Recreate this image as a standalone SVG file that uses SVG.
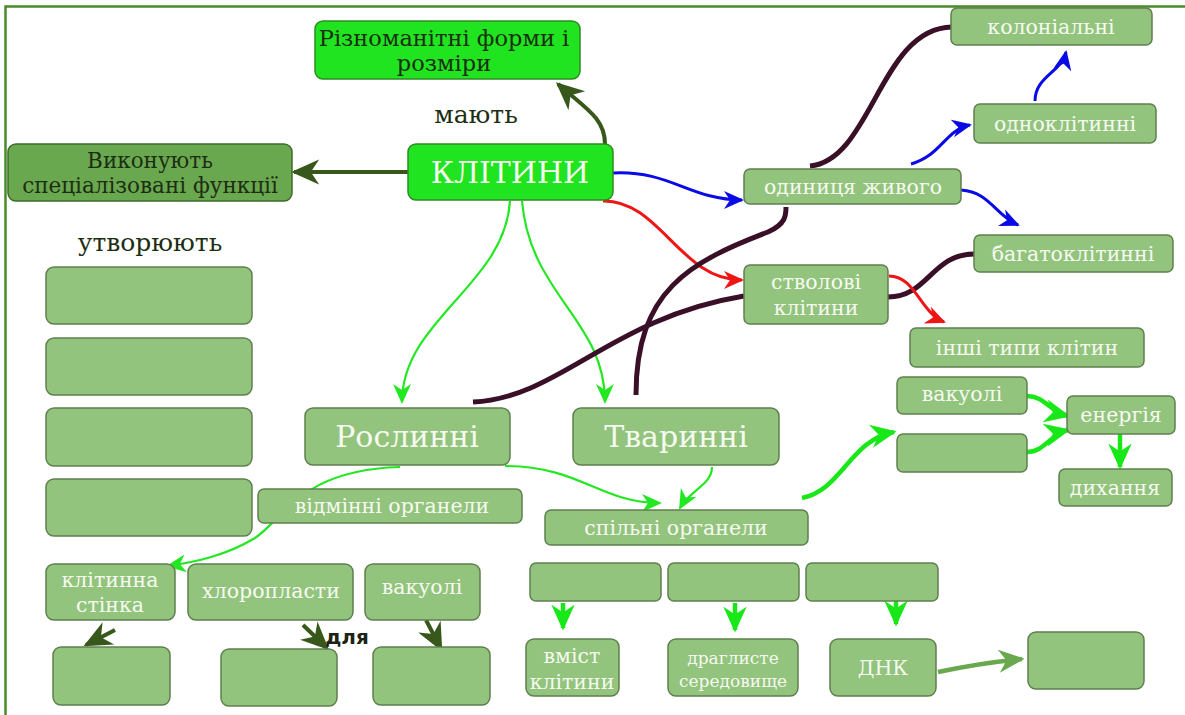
<svg xmlns="http://www.w3.org/2000/svg" width="1185" height="715" viewBox="0 0 1185 715">
<style>
.n rect{fill:#93c47d;stroke:#5f7f4f;stroke-width:1.5}
.n text{font-family:"DejaVu Serif","Liberation Serif",serif;fill:#f6faf1;text-anchor:middle;font-size:20.5px}
.b rect{fill:#1fe41f;stroke:#2f8a22;stroke-width:1.5}
.d rect{fill:#6aa84f;stroke:#3d6b2a;stroke-width:1.5}
.dk{font-family:"DejaVu Serif","Liberation Serif",serif;fill:#1c2e12;text-anchor:middle;font-size:20.5px}
.big{font-size:30px !important}
.c path{fill:none}
.dark{stroke:#38571a;stroke-width:4}
.blue{stroke:#0a0ae6;stroke-width:3}
.red{stroke:#ee1515;stroke-width:3}
.grn{stroke:#22e822;stroke-width:2.2}
.grnT{stroke:#18e818;stroke-width:4.5}
.pur{stroke:#3a1028;stroke-width:5}
.mid{stroke:#6aa84f;stroke-width:4.5}
</style>
<defs>
<marker id="mDark" viewBox="0 0 20 20" refX="18" refY="10" markerWidth="28" markerHeight="28" markerUnits="userSpaceOnUse" orient="auto"><path d="M0,1 L20,10 L0,19 L6,10 z" fill="#38571a"/></marker>
<marker id="mBlue" viewBox="0 0 20 20" refX="18" refY="10" markerWidth="20" markerHeight="20" markerUnits="userSpaceOnUse" orient="auto"><path d="M0,1 L20,10 L0,19 L6,10 z" fill="#0a0ae6"/></marker>
<marker id="mRed" viewBox="0 0 20 20" refX="18" refY="10" markerWidth="20" markerHeight="20" markerUnits="userSpaceOnUse" orient="auto"><path d="M0,1 L20,10 L0,19 L6,10 z" fill="#ee1515"/></marker>
<marker id="mGrn" viewBox="0 0 20 20" refX="18" refY="10" markerWidth="20" markerHeight="20" markerUnits="userSpaceOnUse" orient="auto"><path d="M0,1 L20,10 L0,19 L6,10 z" fill="#22e822"/></marker>
<marker id="mGrnT" viewBox="0 0 20 20" refX="18" refY="10" markerWidth="26" markerHeight="26" markerUnits="userSpaceOnUse" orient="auto"><path d="M0,1 L20,10 L0,19 L6,10 z" fill="#18e818"/></marker>
<marker id="mMid" viewBox="0 0 20 20" refX="18" refY="10" markerWidth="26" markerHeight="26" markerUnits="userSpaceOnUse" orient="auto"><path d="M0,1 L20,10 L0,19 L6,10 z" fill="#6aa84f"/></marker>
</defs>
<rect width="1185" height="715" fill="#ffffff"/>
<path d="M5.5,715 V6.5 H1185" fill="none" stroke="#4a8a2a" stroke-width="2.5"/>

<g id="connectors" class="c">
<path class="grn" d="M400,467 C300,470 285,518 255,538 C225,556 195,562 168,566" marker-end="url(#mGrn)"/>
<path class="dark" d="M605,144 C605,118 585,108 558,84" marker-end="url(#mDark)"/>
<path class="dark" d="M408,172 L294,172" marker-end="url(#mDark)"/>
<path class="blue" d="M613,173 C670,170 690,200 742,200" marker-end="url(#mBlue)"/>
<path class="red" d="M603,201 C660,200 680,280 742,280" marker-end="url(#mRed)"/>
<path class="grn" d="M510,201 C505,285 402,320 402,402" marker-end="url(#mGrn)"/>
<path class="grn" d="M522,201 C530,295 605,320 605,402" marker-end="url(#mGrn)"/>
<path class="pur" d="M473,402 C560,398 610,318 744,296"/>
<path class="pur" d="M636,395 C636,290 690,262 768,232 C786,224 786,215 786,207"/>
<path class="pur" d="M810,166 C872,160 880,28 952,27"/>
<path class="pur" d="M888,297 C928,297 932,254 974,254"/>
<path class="blue" d="M911,164 C942,155 945,130 970,125" marker-end="url(#mBlue)"/>
<path class="blue" d="M961,190 C990,192 995,215 1018,225" marker-end="url(#mBlue)"/>
<path class="blue" d="M1035,101 C1035,76 1062,72 1066,52" marker-end="url(#mBlue)"/>
<path class="red" d="M889,276 C915,276 920,312 944,322" marker-end="url(#mRed)"/>
<path class="grn" d="M505,466 C580,466 600,503 660,503" marker-end="url(#mGrn)"/>
<path class="grn" d="M712,467 C712,485 690,490 680,508" marker-end="url(#mGrn)"/>
<path class="grnT" d="M802,498 C842,490 850,440 894,432" marker-end="url(#mGrnT)"/>
<path class="grnT" d="M1027,396 C1045,396 1050,412 1068,416" marker-end="url(#mGrnT)"/>
<path class="grnT" d="M1027,452 C1045,452 1050,434 1068,430" marker-end="url(#mGrnT)"/>
<path class="grnT" d="M1120,434 L1120,467" marker-end="url(#mGrnT)"/>
<path class="grnT" d="M563,603 L563,628" marker-end="url(#mGrnT)"/>
<path class="grnT" d="M735,603 L735,630" marker-end="url(#mGrnT)"/>
<path class="grnT" d="M896,601 L896,624" marker-end="url(#mGrnT)"/>
<path class="mid" d="M938,672 C970,665 990,662 1022,659" marker-end="url(#mMid)"/>
<path class="dark" d="M115,630 L86,645" marker-end="url(#mDark)"/>
<path class="dark" d="M303,625 L327,648" marker-end="url(#mDark)"/>
<path class="dark" d="M426,620 L441,649" marker-end="url(#mDark)"/>
</g>

<g id="n-rizn" class="b"><rect x="315" y="21" width="265" height="58" rx="8"/><text class="dk" x="444" y="46" style="font-size:22.5px">Різноманітні форми і</text><text class="dk" x="444" y="71" style="font-size:22.5px">розміри</text></g>
<g id="n-vykon" class="d"><rect x="8" y="144" width="284" height="57" rx="8"/><text class="dk" x="150" y="168" style="font-size:21.5px">Виконують</text><text class="dk" x="150" y="193" style="font-size:21.5px">спеціалізовані функції</text></g>
<g id="n-klityny" class="b n"><rect x="408" y="144" width="205" height="56" rx="8" style="fill:#1fe41f;stroke:#2f8a22"/><text class="big" x="510" y="183">КЛІТИНИ</text></g>
<text class="dk" x="476" y="123" style="font-size:25px">мають</text>
<text class="dk" x="150" y="251" style="font-size:25px">утворюють</text>

<g id="n-odyn" class="n"><rect x="744" y="169" width="217" height="35" rx="6"/><text x="853" y="194">одиниця живого</text></g>
<g id="n-kolon" class="n"><rect x="951" y="8" width="201" height="37" rx="6"/><text x="1051" y="34">колоніальні</text></g>
<g id="n-odnokl" class="n"><rect x="974" y="104" width="182" height="39" rx="6"/><text x="1065" y="131">одноклітинні</text></g>
<g id="n-bagato" class="n"><rect x="974" y="235" width="199" height="37" rx="6"/><text x="1073" y="261">багатоклітинні</text></g>
<g id="n-stvol" class="n"><rect x="744" y="265" width="144" height="59" rx="6"/><text x="816" y="289">стволові</text><text x="816" y="315">клітини</text></g>
<g id="n-inshi" class="n"><rect x="910" y="328" width="234" height="39" rx="6"/><text x="1027" y="355">інші типи клітин</text></g>
<g id="n-vak2" class="n"><rect x="897" y="377" width="130" height="37" rx="6"/><text x="962" y="401">вакуолі</text></g>
<g id="n-empty-r" class="n"><rect x="897" y="434" width="130" height="38" rx="6"/></g>
<g id="n-energ" class="n"><rect x="1067" y="396" width="108" height="38" rx="6"/><text x="1121" y="422">енергія</text></g>
<g id="n-dyh" class="n"><rect x="1059" y="469" width="113" height="37" rx="6"/><text x="1115" y="495">дихання</text></g>

<g id="n-e1" class="n"><rect x="46" y="267" width="206" height="57" rx="8"/></g>
<g id="n-e2" class="n"><rect x="46" y="338" width="206" height="57" rx="8"/></g>
<g id="n-e3" class="n"><rect x="46" y="408" width="206" height="58" rx="8"/></g>
<g id="n-e4" class="n"><rect x="46" y="479" width="206" height="57" rx="8"/></g>

<g id="n-rosl" class="n"><rect x="305" y="408" width="205" height="57" rx="8"/><text class="big" x="407" y="447">Рослинні</text></g>
<g id="n-tvar" class="n"><rect x="573" y="408" width="206" height="57" rx="8"/><text class="big" x="676" y="447">Тваринні</text></g>
<g id="n-vidm" class="n"><rect x="258" y="489" width="264" height="34" rx="6"/><text x="392" y="513">відмінні органели</text></g>
<g id="n-spil" class="n"><rect x="545" y="510" width="263" height="35" rx="6"/><text x="676" y="535">спільні органели</text></g>

<g id="n-stinka" class="n"><rect x="46" y="564" width="129" height="56" rx="8"/><text x="110" y="587">клітинна</text><text x="110" y="612">стінка</text></g>
<g id="n-hloro" class="n"><rect x="188" y="564" width="165" height="56" rx="8"/><text x="271" y="598">хлоропласти</text></g>
<g id="n-vak1" class="n"><rect x="365" y="564" width="115" height="56" rx="8"/><text x="422" y="594">вакуолі</text></g>
<g id="n-b1" class="n"><rect x="53" y="647" width="117" height="58" rx="8"/></g>
<g id="n-b2" class="n"><rect x="221" y="649" width="116" height="57" rx="8"/></g>
<g id="n-b3" class="n"><rect x="373" y="647" width="117" height="58" rx="8"/></g>
<text x="347" y="644" font-family="DejaVu Sans, Liberation Sans, sans-serif" font-weight="bold" font-size="20" fill="#1c2414" text-anchor="middle">для</text>

<g id="n-r1" class="n"><rect x="530" y="563" width="131" height="38" rx="6"/></g>
<g id="n-r2" class="n"><rect x="668" y="563" width="131" height="38" rx="6"/></g>
<g id="n-r3" class="n"><rect x="806" y="563" width="132" height="38" rx="6"/></g>
<g id="n-vmist" class="n"><rect x="526" y="639" width="93" height="57" rx="8"/><text x="572" y="663">вміст</text><text x="572" y="689">клітини</text></g>
<g id="n-dragl" class="n"><rect x="668" y="639" width="130" height="57" rx="8"/><text x="733" y="664" style="font-size:17px">драглисте</text><text x="733" y="687" style="font-size:17px">середовище</text></g>
<g id="n-dnk" class="n"><rect x="830" y="639" width="106" height="57" rx="8"/><text x="883" y="675">ДНК</text></g>
<g id="n-last" class="n"><rect x="1028" y="632" width="116" height="57" rx="8"/></g>
</svg>
